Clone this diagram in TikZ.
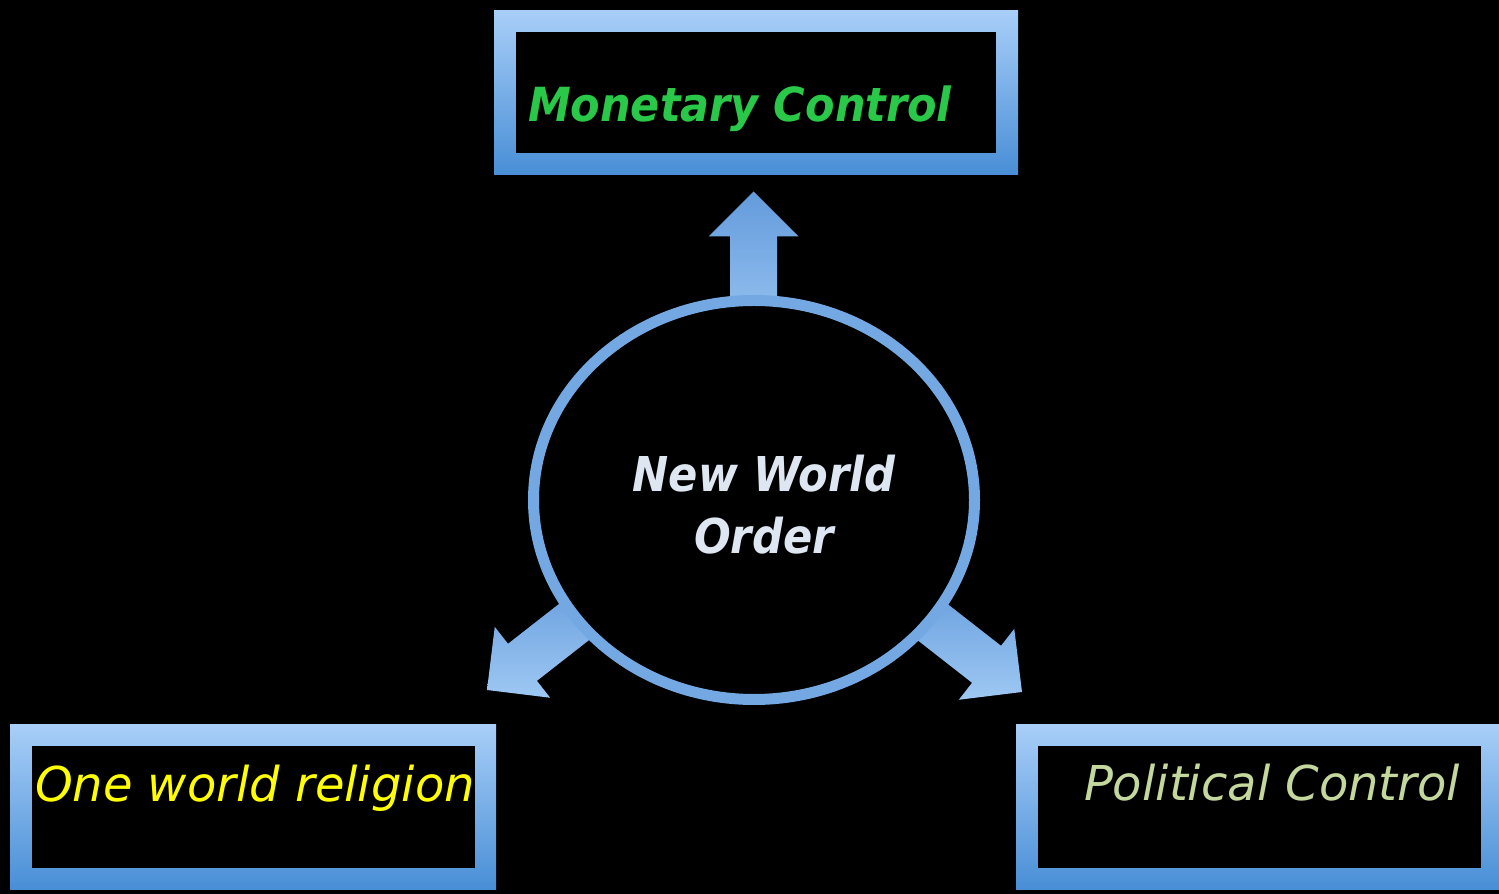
\documentclass[tikz,border=0pt]{standalone}
\usepackage{fontspec}
\setmainfont{DejaVu Sans}
\usetikzlibrary{shapes.geometric}
\definecolor{frametop}{RGB}{168,206,248}
\definecolor{framebot}{RGB}{72,142,214}
\definecolor{arrowL}{RGB}{100,155,220}
\definecolor{arrowR}{RGB}{158,200,243}
\definecolor{ringblue}{RGB}{115,168,226}
\definecolor{moneygreen}{RGB}{42,200,72}
\definecolor{nwowhite}{RGB}{222,230,242}
\definecolor{polgreen}{RGB}{196,215,156}
\definecolor{relyellow}{RGB}{255,255,0}
\begin{document}
\begin{tikzpicture}[x=1pt,y=1pt,
  frame/.style={rectangle, inner sep=0pt, outer sep=0pt, top color=frametop, bottom color=framebot},
  inbox/.style={rectangle, inner sep=0pt, outer sep=0pt, fill=black},
  blockarrow/.style={top color=arrowL, bottom color=arrowR, draw=none},
  lbl/.style={inner sep=0pt, outer sep=0pt, anchor=base west, font=\fontsize{48}{56}\selectfont\itshape},
  boldlbl/.style={inner sep=0pt, outer sep=0pt, font=\fontsize{47}{56}\selectfont\bfseries\itshape},
  ]
\fill[black] (0,0) rectangle (1499,894);
\useasboundingbox (0,0) rectangle (1499,894);

% boxes
\node[frame, minimum width=524, minimum height=164] (moneyframe) at (756,801) {};
\node[inbox, minimum width=480, minimum height=121] (money) at (756,801.5) {};
\node[frame, minimum width=486, minimum height=165] (relframe) at (253,86.5) {};
\node[inbox, minimum width=443, minimum height=122] (rel) at (253.5,87) {};
\node[frame, minimum width=483, minimum height=165] (polframe) at (1257.5,86.5) {};
\node[inbox, minimum width=443, minimum height=122] (pol) at (1259.5,87) {};

% arrow tips
\coordinate (tipM) at (753.5,702.5);
\coordinate (tipR) at (487,204);
\coordinate (tipP) at (1022,202);

\begin{scope}[shift={(tipM)}, rotate=90]
  \shade[blockarrow] (0,0) -- (-45,45) -- (-45,23.5) -- (-160,23.5) -- (-160,-23.5) -- (-45,-23.5) -- (-45,-45) -- cycle;
\end{scope}
\begin{scope}[shift={(tipR)}, rotate=218]
  \shade[blockarrow] (0,0) -- (-45,45) -- (-45,23.5) -- (-160,23.5) -- (-160,-23.5) -- (-45,-23.5) -- (-45,-45) -- cycle;
\end{scope}
\begin{scope}[shift={(tipP)}, rotate=322]
  \shade[blockarrow] (0,0) -- (-45,45) -- (-45,23.5) -- (-160,23.5) -- (-160,-23.5) -- (-45,-23.5) -- (-45,-45) -- cycle;
\end{scope}

% central ellipse
\node[ellipse, draw=ringblue, line width=11pt, fill=black, minimum width=441, minimum height=399, inner sep=0pt] (nwo) at (754,394) {};

% labels
\node[boldlbl, anchor=base west, text=moneygreen] (moneytxt) at (528,772.3) {\scalebox{0.915}[1]{Monetary Control}};
\node[boldlbl, font=\fontsize{48}{56}\selectfont\bfseries\itshape, text=nwowhite, align=center, anchor=base] (nwotxt) at (764,340.7) {\scalebox{0.9}[1]{New World}\\[5.6pt]\scalebox{0.9}[1]{Order}};
\node[lbl, text=relyellow] (reltxt) at (35,92.3) {One world religion};
\node[lbl, text=polgreen] (poltxt) at (1084,93.3) {Political Control};
\end{tikzpicture}
\end{document}
